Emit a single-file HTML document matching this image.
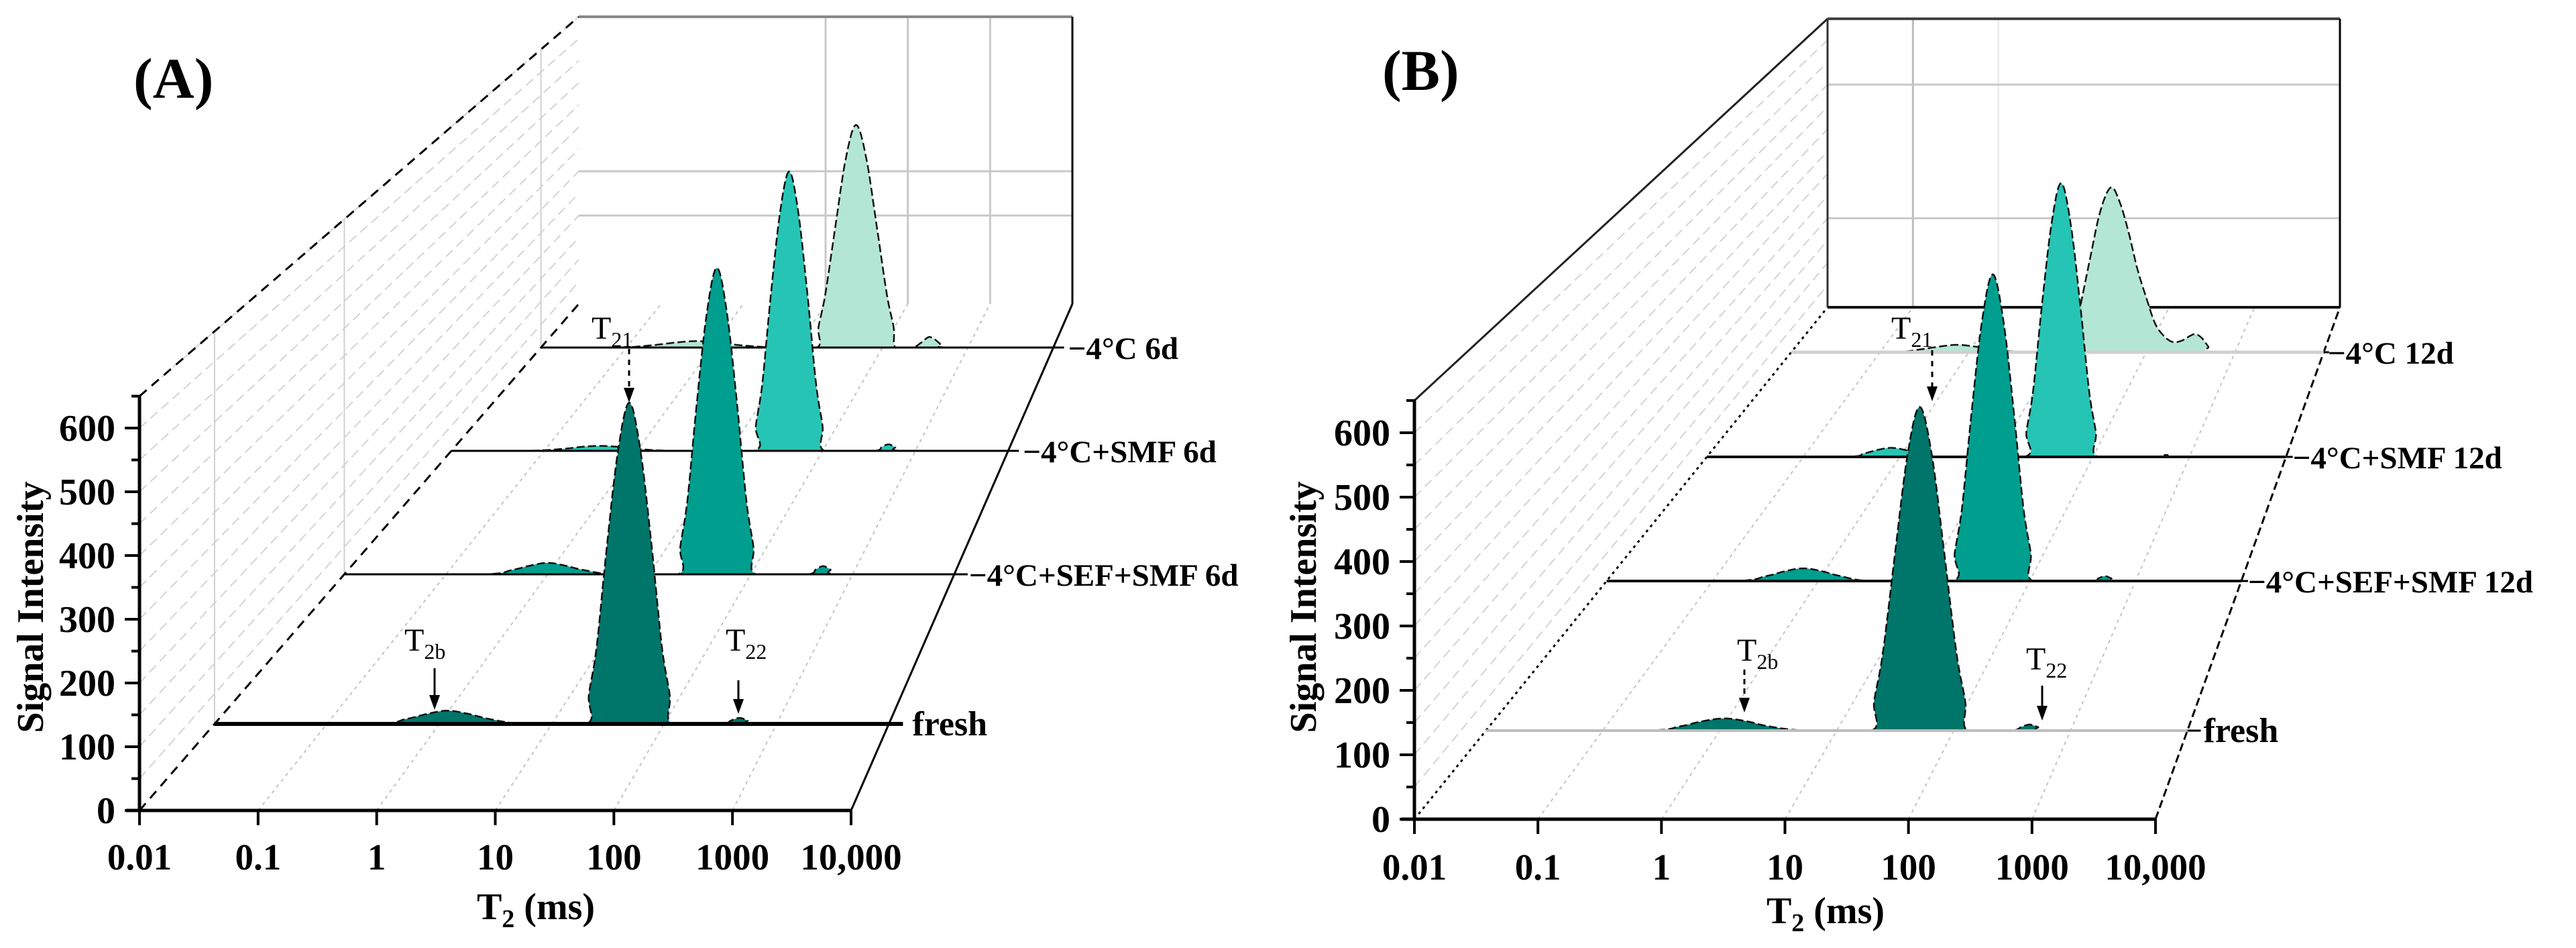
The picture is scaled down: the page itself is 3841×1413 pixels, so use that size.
<!DOCTYPE html>
<html>
<head>
<meta charset="utf-8">
<style>
html,body{margin:0;padding:0;background:#fff;}
svg{display:block;}
text{font-family:"Liberation Serif","DejaVu Serif",serif;}
</style>
</head>
<body>
<svg id="chart" xmlns="http://www.w3.org/2000/svg" width="3841" height="1413" viewBox="0 0 3841 1413">
  <rect x="0" y="0" width="3841" height="1413" fill="#fff"/>
  <g id="panelA"></g>
  <g id="panelB"></g>
  <text x="199" y="146" font-size="86" font-weight="bold">(A)</text>
  <text x="2061" y="134" font-size="86" font-weight="bold">(B)</text>
  <text transform="translate(64,905) rotate(-90)" text-anchor="middle" font-size="56" font-weight="bold">Signal Intensity</text>
  <text transform="translate(1962,905) rotate(-90)" text-anchor="middle" font-size="56" font-weight="bold">Signal Intensity</text>
  <text x="799" y="1370" text-anchor="middle" font-size="56" font-weight="bold">T<tspan font-size="38" dy="12">2</tspan><tspan dy="-12"> (ms)</tspan></text>
  <text x="2722" y="1376" text-anchor="middle" font-size="56" font-weight="bold">T<tspan font-size="38" dy="12">2</tspan><tspan dy="-12"> (ms)</tspan></text>
</svg>
<script>
// ---------- data ----------
const xTickLabels = ['0.01','0.1','1','10','100','1000','10,000'];
const yTickValues = [0,100,200,300,400,500,600];
const seriesLabelsA = ['fresh','\u22124\u00b0C+SEF+SMF 6d','\u22124\u00b0C+SMF 6d','\u22124\u00b0C  6d'];
const seriesLabelsB = ['fresh','\u22124\u00b0C+SEF+SMF 12d','\u22124\u00b0C+SMF 12d','\u22124\u00b0C  12d'];

// Panel A (log10 T2 in ms, signal intensity)
const A_fresh_logT2 = [-2,-0.6,-0.3,-0.1,0.07,0.25,0.45,0.75,1.31,1.33,1.40,1.49,1.59,1.69,1.79,1.89,1.98,2.05,2.07,2.5,2.6,2.67,2.74,2.84,4];
const A_fresh_signal = [0,0,8,17,22,17,8,0,0,48,128,293,452,532,452,293,128,48,0,0,6,10,6,0,0];
const A_sef_logT2 = [-2,-0.65,-0.35,-0.17,0,0.17,0.35,0.65,1.285,1.305,1.375,1.465,1.565,1.665,1.765,1.865,1.955,2.025,2.045,2.55,2.64,2.71,2.78,2.87,4];
const A_sef_signal = [0,0,8,16,21,16,8,0,0,50,135,309,477,561,477,309,135,50,0,0,9,15,9,0,0];
const A_smf_logT2 = [-2,-1.2,-0.8,-0.6,-0.4,-0.2,0,0.4,1.26,1.28,1.35,1.44,1.54,1.64,1.74,1.84,1.93,2.0,2.02,2.55,2.64,2.71,2.78,2.87,4];
const A_smf_signal = [0,0,4,8,10,8,4,0,0,50,134,308,476,560,476,308,134,50,0,0,8,13,8,0,0];
const A_ctrl_logT2 = [-2,-1.1,-0.7,-0.42,-0.18,0.06,0.34,0.75,1.23,1.25,1.33,1.45,1.57,1.69,1.81,1.93,2.05,2.13,2.15,2.35,2.44,2.5,2.55,2.61,2.67,2.76,4];
const A_ctrl_signal = [0,0,5,11,14,11,5,0,0,44,116,267,412,485,412,267,116,44,0,0,9,18,23,18,9,0,0];

// Panel B
const B_fresh_logT2 = [-2,-0.65,-0.34,-0.16,0.04,0.24,0.42,0.74,1.30,1.32,1.395,1.5,1.605,1.71,1.815,1.92,2.025,2.1,2.12,2.49,2.58,2.65,2.72,2.82,4];
const B_fresh_signal = [0,0,7,15,20,15,7,0,0,48,127,292,451,531,451,292,127,48,0,0,6,10,6,0,0];
const B_sef_logT2 = [-2,-0.8,-0.49,-0.31,-0.14,0.03,0.21,0.5,1.27,1.29,1.36,1.45,1.55,1.65,1.75,1.85,1.94,2.01,2.03,2.57,2.65,2.71,2.77,2.85,4];
const B_sef_signal = [0,0,9,18,23,18,9,0,0,50,133,306,473,556,473,306,133,50,0,0,5,9,5,0,0];
const B_smf_logT2 = [-2,-0.6,-0.37,-0.23,-0.09,0.05,0.19,0.45,1.29,1.31,1.38,1.47,1.57,1.67,1.77,1.87,1.96,2.03,2.05,2.62,2.76,2.9,4];
const B_smf_signal = [0,0,7,14,18,14,7,0,0,49,131,299,462,544,462,299,131,49,0,0,4,0,0];
const B_ctrl_logT2 = [-2,-0.9,-0.55,-0.34,-0.13,0.08,0.29,0.65,1.14,1.16,1.24,1.36,1.48,1.6,1.7,1.8,1.9,2.0,2.1,2.2,2.3,2.4,2.5,2.56,2.63,2.7,2.76,4];
const B_ctrl_signal = [0,0,6,12,16,12,6,0,0,32,85,196,303,356,325,260,180,118,62,35,22,25,36,39,30,12,0,0];

// ---------- drawing ----------
const NS='http://www.w3.org/2000/svg';
function mk(tag, attrs, parent){
  const el=document.createElementNS(NS,tag);
  for(const k in attrs) el.setAttribute(k, attrs[k]);
  parent.appendChild(el);
  return el;
}
function smooth(xs, ys){
  const pts=[], n=xs.length, N=10;
  for(let i=0;i<n-1;i++){
    const i0=i>0?i-1:i, i3=i+2<n?i+2:i+1;
    for(let s=0;s<N;s++){
      const t=s/N, t2=t*t, t3=t2*t;
      const f=(a,b,c,d)=>0.5*((2*b)+(-a+c)*t+(2*a-5*b+4*c-d)*t2+(-a+3*b-3*c+d)*t3);
      let x=f(xs[i0],xs[i],xs[i+1],xs[i3]);
      let y=f(ys[i0],ys[i],ys[i+1],ys[i3]);
      if(ys[i]===0 && ys[i+1]===0) y=0;
      pts.push([x, Math.max(0,y)]);
    }
  }
  pts.push([xs[n-1], ys[n-1]]);
  return pts;
}

function drawPanel(g, P){
  const bs = P.fs*(P.bx1-P.bx0)/(P.x1-P.x0);
  const rowGeom = (y)=>{
    const t=(P.yF-y)/(P.yF-P.yB);
    const left=P.x0+(P.bx0-P.x0)*t, right=P.x1+(P.bx1-P.x1)*t;
    const w=right-left;
    return {left,right,w,vs:P.fs*w/(P.x1-P.x0),
      px:(lg)=>left+(lg+2)/6*w, py:(v)=>y-v*P.fs*w/(P.x1-P.x0)};
  };
  const fx = (lg)=>P.x0+(lg+2)/6*(P.x1-P.x0);
  const fy = (v)=>P.yF-v*P.fs;
  let el;
  P.backV.forEach(function(k){
    const x=P.bx0+k*(P.bx1-P.bx0)/6;
    el=mk('line',{x1:x,y1:P.top,x2:x,y2:P.yB,stroke:P.backVColor[k]||'#c8c8c8','stroke-width':3},g);
    
    
  });
  P.backH.forEach(function(v){
    const y=P.yB-v*bs;
    el=mk('line',{x1:P.bx0,y1:y,x2:P.bx1,y2:y,stroke:'#c8c8c8','stroke-width':3},g);
    
    
  });
  for(let v=50; v<=650; v+=50){
    el=mk('line',{x1:P.x0,y1:fy(v),x2:P.bx0,y2:P.yB-v*bs,stroke:'#d4d4d4','stroke-width':2,'stroke-dasharray':'14,8'},g);
    
    
  }
  P.sideV.forEach(function(y){
    const r=rowGeom(y);
    const t=(r.left-P.x0)/(P.bx0-P.x0);
    const ytop=fy(650)+(P.top-fy(650))*t;
    el=mk('line',{x1:r.left,y1:ytop,x2:r.left,y2:y,stroke:'#d0d0d0','stroke-width':2},g);
    
    
  });
  for(let k=1;k<=5;k++){
    el=mk('line',{x1:P.x0+k*(P.x1-P.x0)/6,y1:P.yF,x2:P.bx0+k*(P.bx1-P.bx0)/6,y2:P.yB,stroke:'#c4c4c4','stroke-width':2,'stroke-dasharray':'5,6'},g);
    
    
  }
  el=mk('line',{x1:P.x0,y1:fy(650),x2:P.bx0,y2:P.top,stroke:P.topEdgeColor,'stroke-width':3,'stroke-dasharray':P.topEdgeDash},g);
  
  
  el=mk('line',{x1:P.x0,y1:P.yF,x2:P.bx0,y2:P.yB,stroke:'#000','stroke-width':3,'stroke-dasharray':P.leftEdgeDash},g);
  
  
  el=mk('line',{x1:P.x1,y1:P.yF,x2:P.bx1,y2:P.yB,stroke:'#000','stroke-width':3,'stroke-dasharray':P.rightEdgeDash},g);
  
  
  el=mk('line',{x1:P.bx0,y1:P.top,x2:P.bx1,y2:P.top,stroke:P.backTopColor,'stroke-width':4},g);
  
  
  el=mk('line',{x1:P.bx1,y1:P.top,x2:P.bx1,y2:P.yB,stroke:'#000','stroke-width':3},g);
  
  
  if(P.backBox){
    el=mk('line',{x1:P.bx0,y1:P.top,x2:P.bx0,y2:P.yB,stroke:'#333','stroke-width':3},g);
    
    
    el=mk('line',{x1:P.bx0,y1:P.yB,x2:P.bx1,y2:P.yB,stroke:'#111','stroke-width':4},g);
    
    
  }
  for(let i=P.series.length-1;i>=0;i--){
    const S=P.series[i], y=P.rowsY[i], r=rowGeom(y);
    const pts=smooth(S.x,S.y).map(p=>[r.px(p[0]),r.py(p[1])]);
    let d='M'+r.left.toFixed(1)+','+y+' '+pts.map(p=>'L'+p[0].toFixed(1)+','+p[1].toFixed(1)).join(' ')+' L'+r.right.toFixed(1)+','+y+' Z';
    el=mk('path',{d:d,fill:P.colors[i],stroke:'none'},g);
    
    
    const ld='M'+pts.map(p=>p[0].toFixed(1)+','+p[1].toFixed(1)).join(' L');
    el=mk('path',{d:ld,fill:'none',stroke:'#111','stroke-width':2.5,'stroke-dasharray':'12,5'},g);
    
    
    const bl=P.baseStyle[i];
    el=mk('line',{x1:r.left,y1:y,x2:r.right+bl.ext,y2:y,stroke:bl.color,'stroke-width':bl.w},g);
    
    
    if(bl.tick){
      el=mk('line',{x1:r.right,y1:y,x2:r.right+bl.tick,y2:y,stroke:'#000','stroke-width':3},g);
      
      
    }
    el=mk('text',{x:r.right+bl.lx,y:y+17,'font-size':bl.fs||47,'font-weight':'bold','xml:space':'preserve'},g);
    el.textContent=P.labels[i];
    
    
  }
  el=mk('line',{x1:P.x0,y1:P.yF,x2:P.x0,y2:fy(652),stroke:'#000','stroke-width':5},g);
  
  
  el=mk('line',{x1:P.x0-20,y1:P.yF,x2:P.x1,y2:P.yF,stroke:'#000','stroke-width':5},g);
  
  
  for(let v=50; v<=650; v+=100){
    el=mk('line',{x1:P.x0-12,y1:fy(v),x2:P.x0,y2:fy(v),stroke:'#000','stroke-width':4},g);
    
    
  }
  yTickValues.forEach(function(v){
    el=mk('line',{x1:P.x0-22,y1:fy(v),x2:P.x0,y2:fy(v),stroke:'#000','stroke-width':4},g);
    
    
    el=mk('text',{x:P.x0-36,y:fy(v)+19,'text-anchor':'end','font-size':56,'font-weight':'bold'},g);
    el.textContent=String(v);
    
    
  });
  xTickLabels.forEach(function(lab,k){
    const x=fx(k-2);
    el=mk('line',{x1:x,y1:P.yF,x2:x,y2:P.yF+22,stroke:'#000','stroke-width':4},g);
    
    
    el=mk('text',{x:x,y:P.yF+P.xlabDy,'text-anchor':'middle','font-size':55,'font-weight':'bold'},g);
    el.textContent=lab;
    
    
  });
  P.annots.forEach(function(a){
    el=mk('text',{x:a.tx,y:a.ty,'font-size':48},g);
    
    
    el.textContent='T';
    const ts=mk('tspan',{'font-size':32,dy:12},el);
    ts.textContent=a.sub;
    el=mk('line',{x1:a.ax,y1:a.ay1,x2:a.ax,y2:a.ay2-18,stroke:'#000','stroke-width':3,'stroke-dasharray':a.dash||'none'},g);
    
    
    el=mk('polygon',{points:(a.ax-8)+','+(a.ay2-22)+' '+(a.ax+8)+','+(a.ay2-22)+' '+a.ax+','+a.ay2,fill:'#000'},g);
    
    
  });
}

const colors=['#00756a','#009e8f','#26c4b4','#b3e6d5'];

drawPanel(document.getElementById('panelA'),{
  x0:208,x1:1269,yF:1208,bx0:863,bx1:1599,yB:453,top:25,fs:0.95,
  rowsY:[1079,856,672,518], colors:colors, labels:seriesLabelsA,
  series:[{key:'fresh',x:A_fresh_logT2,y:A_fresh_signal},{key:'sef-smf-6d',x:A_sef_logT2,y:A_sef_signal},{key:'smf-6d',x:A_smf_logT2,y:A_smf_signal},{key:'control-6d',x:A_ctrl_logT2,y:A_ctrl_signal}],
  baseStyle:[{color:'#000',w:6,ext:21,lx:35,fs:52},{color:'#000',w:3,ext:20,lx:22},{color:'#000',w:3,ext:16,lx:22},{color:'#000',w:3,ext:16,lx:22}],
  backV:[3,4,5], backVColor:{}, backH:[200,300], sideV:[1079,856,518],
  topEdgeColor:'#000', topEdgeDash:'14,10', leftEdgeDash:'14,10', rightEdgeDash:'none', backTopColor:'#888', backBox:false,
  xlabDy:88,
  annots:[{tx:882,ty:505,sub:'21',ax:938,ay1:520,ay2:600,dash:'8,8'},
          {tx:603,ty:970,sub:'2b',ax:648,ay1:996,ay2:1058},
          {tx:1082,ty:970,sub:'22',ax:1101,ay1:1014,ay2:1064}]
});

drawPanel(document.getElementById('panelB'),{
  x0:2109,x1:3214,yF:1221,bx0:2725,bx1:3489,yB:458,top:28,fs:0.96,
  rowsY:[1089,866,681,525], colors:colors, labels:seriesLabelsB,
  series:[{key:'fresh',x:B_fresh_logT2,y:B_fresh_signal},{key:'sef-smf-12d',x:B_sef_logT2,y:B_sef_signal},{key:'smf-12d',x:B_smf_logT2,y:B_smf_signal},{key:'control-12d',x:B_ctrl_logT2,y:B_ctrl_signal}],
  baseStyle:[{color:'#bdbdbd',w:4,ext:0,lx:24,tick:20,fs:52},{color:'#111',w:4,ext:0,lx:10,tick:10},{color:'#111',w:4,ext:0,lx:10,tick:10},{color:'#d0d0d0',w:5,ext:0,lx:6,tick:8}],
  backV:[1,2], backVColor:{1:'#bdbdbd',2:'#eeeeee'}, backH:[200,500], sideV:[],
  topEdgeColor:'#222', topEdgeDash:'none', leftEdgeDash:'4,6', rightEdgeDash:'12,6', backTopColor:'#444', backBox:true,
  xlabDy:90,
  annots:[{tx:2820,ty:505,sub:'21',ax:2881,ay1:522,ay2:598,dash:'8,8'},
          {tx:2590,ty:985,sub:'2b',ax:2601,ay1:998,ay2:1062,dash:'8,6'},
          {tx:3021,ty:998,sub:'22',ax:3045,ay1:1022,ay2:1074}]
});
</script>
</body>
</html>
